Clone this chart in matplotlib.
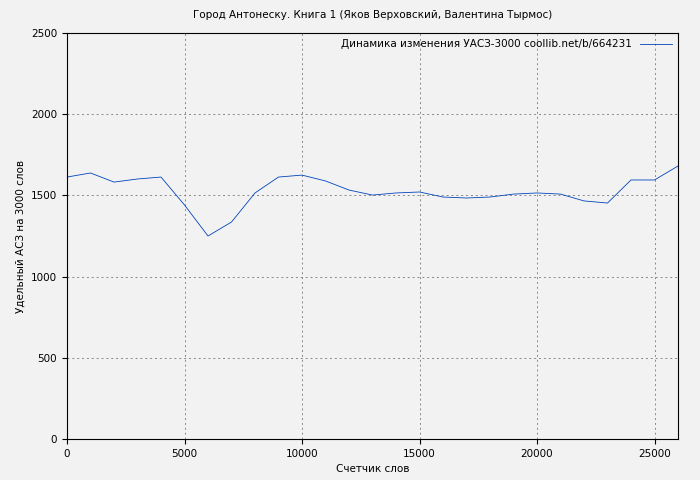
import matplotlib
matplotlib.use("Agg")
import matplotlib.pyplot as plt

x = list(range(0, 27000, 1000))
y = [1613, 1638, 1582, 1601, 1613, 1441, 1250, 1336, 1515, 1613, 1625, 1589, 1533, 1502,
     1515, 1521, 1490, 1484, 1490, 1508, 1515, 1508, 1466, 1453, 1595, 1595, 1681]

fig = plt.figure(figsize=(7, 4.8), dpi=100, facecolor="#f2f2f2")
ax = fig.add_axes([67/700, 41/480, 611/700, 406/480], facecolor="#f2f2f2")
ax.plot(x, y, color="#0044bb", lw=0.6, label="Динамика изменения УАСЗ-3000 coollib.net/b/664231")
ax.set_xlim(0, 26000)
ax.set_ylim(0, 2500)
ax.set_xticks(range(0, 26000, 5000))
ax.set_yticks(range(0, 2501, 500))
ax.grid(True, color="#888888", ls=(0, (2, 3)), lw=0.7)
ax.tick_params(labelsize=7.5)
ax.set_xlabel("Счетчик слов", fontsize=7.5)
ax.set_ylabel("Удельный АСЗ на 3000 слов", fontsize=7.5)
ax.set_title("Город Антонеску. Книга 1 (Яков Верховский, Валентина Тырмос)", fontsize=7.5, pad=11)
ax.legend(loc="upper right", fontsize=7.5, frameon=False, markerfirst=False, handlelength=3,
          borderaxespad=0.2)
fig.savefig("out.png", dpi=100, facecolor="#f2f2f2")
